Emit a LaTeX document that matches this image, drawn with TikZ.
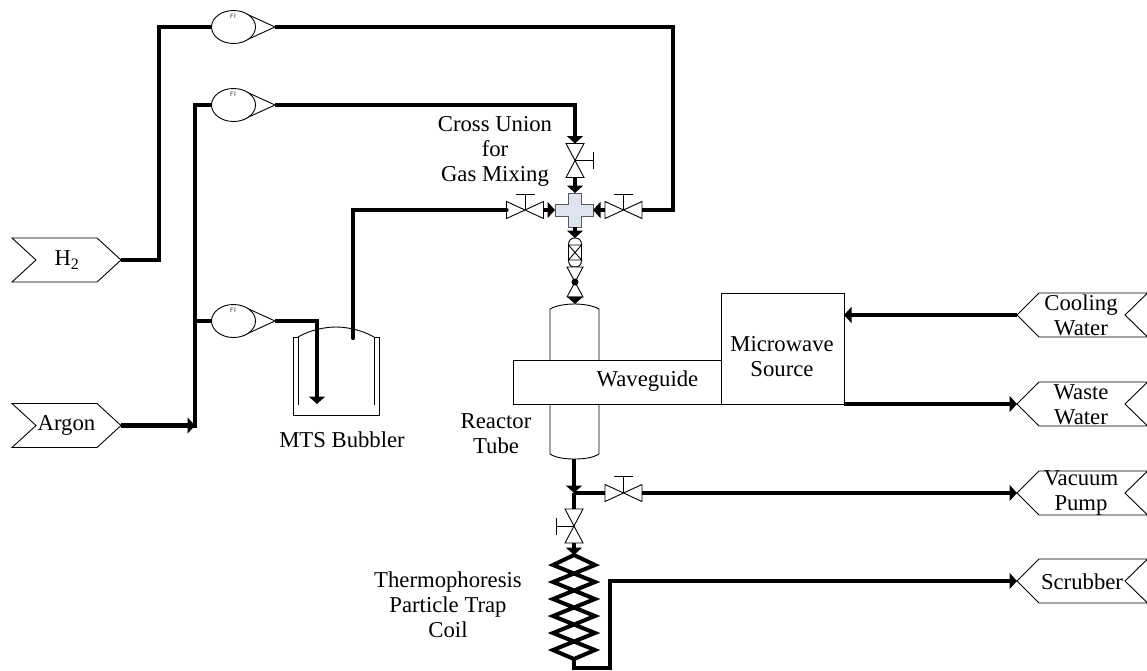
\documentclass[tikz,border=0pt]{standalone}
\usepackage{fontspec}
\setmainfont{Liberation Serif}
\usetikzlibrary{arrows.meta}
\definecolor{crossblue}{RGB}{221,228,240}
\newcommand{\pfdvalveH}[4]{% name, x, y, stem: horizontal run valve, stem up
  \coordinate (#1W) at (#2-18.5,#3); \coordinate (#1E) at (#2+18.5,#3);
  \draw[thin line,fill=white] (#2-18.5,#3-8.5) -- (#2+18.5,#3+8.5) -- (#2+18.5,#3-8.5) -- (#2-18.5,#3+8.5) -- cycle;
  \draw[thin line] (#2,#3) -- (#2,#3-#4) (#2-9.5,#3-#4) -- (#2+9.5,#3-#4);}
\newcommand{\pfdvalveV}[4]{% name, x, y, handle dx
  \coordinate (#1N) at (#2,#3-17); \coordinate (#1S) at (#2,#3+17);
  \draw[thin line,fill=white] (#2-9,#3-17) -- (#2+9,#3+17) -- (#2-9,#3+17) -- (#2+9,#3-17) -- cycle;
  \draw[thin line] (#2,#3) -- (#2+#4,#3) (#2+#4,#3-8.5) -- (#2+#4,#3+8.5);}
\newcommand{\pfdflow}[3]{% name, x, y : flow indicator
  \coordinate (#1W) at (#2-22,#3); \coordinate (#1E) at (#2+41.5,#3);
  \draw[thin line,fill=white] (#2+13,#3-13) -- (#2+41.5,#3) -- (#2+13,#3+13);
  \draw[thin line,fill=white] (#2,#3) ellipse [x radius=22,y radius=16.5];
  \node[flabel] (#1L) at (#2-0.5,#3-10.5) {FI};}
\newcommand{\pfdtagL}[4]{% name, y, height half, text
  \coordinate (#1) at (121,#2);
  \draw[thin line,fill=white] (12,#2-22) -- (97,#2-22) -- (121,#2) -- (97,#2+22) -- (12,#2+22) -- (36,#2) -- cycle;
  \node[lab] (#1T) at (#3,#2) {#4};}
\newcommand{\pfdtagR}[2]{% name, y
  \coordinate (#1) at (1017,#2);
  \draw[thin line,fill=white] (1147.5,#2-22) -- (1039,#2-22) -- (1017,#2) -- (1039,#2+22) -- (1147.5,#2+22) -- (1125,#2) -- cycle;}
\tikzset{
  thin line/.style={line width=0.9pt,draw=black},
  pipe/.style={line width=4.4pt,line join=miter,draw=black},
  flow/.style={pipe,-{Triangle[length=7.5pt,width=16pt]}},
  lab/.style={font=\fontsize{22.7}{25}\selectfont,inner sep=0pt,align=center,text=black},
  flabel/.style={font=\sffamily\bfseries\fontsize{6.5}{6.5}\selectfont,inner sep=0pt,text=black!55},
  crossfill/.style={line width=1pt,draw=black!65,fill=crossblue},
}
\begin{document}
\begin{tikzpicture}[x=1pt,y=-1pt]
\useasboundingbox (0,0) rectangle (1147,670);

% --- junction coordinates
\coordinate (h2up) at (159,260);
\coordinate (h2top) at (159,27);
\coordinate (hrc) at (673,27);
\coordinate (hrd) at (673,210);
\coordinate (arTee) at (195,425.5);
\coordinate (arTop) at (195,105);
\coordinate (arBot) at (195,428);
\coordinate (arMid) at (195,321);
\coordinate (f2c) at (575,105);
\coordinate (f3c) at (317,321);
\coordinate (bubIn) at (317,404);
\coordinate (mtsOut) at (353,338);
\coordinate (mtsUp) at (353,210);
\coordinate (cN) at (575,193);
\coordinate (cS) at (575,227);
\coordinate (cW) at (555,210);
\coordinate (cE) at (593,210);
\coordinate (filtN) at (575,238);
\coordinate (filtS) at (575,267);
\coordinate (v5N) at (575,267);
\coordinate (v5S) at (575,297);
\coordinate (tubeTop) at (575,304);
\coordinate (tubeBot) at (574,459);
\coordinate (vtee) at (574,493);
\coordinate (coilTop) at (574,555);
\coordinate (coilBot) at (574,659);
\coordinate (cb1) at (574,668);
\coordinate (cb2) at (610,668);
\coordinate (cb3) at (610,581);
\coordinate (mwC) at (844,315);
\coordinate (mwW) at (844,404);

% --- reactor tube, waveguide, microwave source
\draw[thin line,fill=white] (550,309) .. controls (556,305.5) and (566,304) .. (574.5,304) .. controls (583,304) and (593,305.5) .. (599,309) -- (599,454) .. controls (593,458) and (583,459) .. (574.5,459) .. controls (566,459) and (556,458) .. (550,454) -- cycle;
\node[thin line,draw,fill=white,minimum width=208pt,minimum height=43.5pt,inner sep=0pt,anchor=north west] (wg) at (513,360) {};
\node[thin line,draw,fill=white,minimum width=123pt,minimum height=110.5pt,inner sep=0pt,anchor=north west] (mw) at (721,293) {};
\node[lab] (wgT) at (647.5,381) {Waveguide};
\node[lab] (mwT) at (782,356.5) {Microwave\\Source};

% --- bubbler
\draw[thin line] (298,337) -- (293,337) -- (293,415) -- (379,415) -- (379,337) -- (374,337);
\draw[thin line] (298,337) -- (298,405) (374,337) -- (374,405);
\draw[thin line] (298,337) .. controls (310,330) and (325,327) .. (336,327) .. controls (347,327) and (362,330) .. (374,337);

% --- feed tags
\pfdtagL{h2}{260}{67}{H\textsubscript{2}}
\pfdtagL{ar}{425.5}{66.5}{Argon}

% --- right tags
\pfdtagR{cool}{315}
\pfdtagR{waste}{404}
\pfdtagR{vac}{493}
\pfdtagR{scr}{581}
\node[lab] (coolT) at (1081,315) {Cooling\\Water};
\node[lab] (wasteT) at (1081,404.5) {Waste\\Water};
\node[lab] (vacT) at (1081,493) {Vacuum\\Pump};
\node[lab] (scrT) at (1082,582) {Scrubber};

% --- flow indicators
\pfdflow{fa}{233.5}{27}
\pfdflow{fb}{233.5}{105}
\pfdflow{fc}{233.5}{321}

% --- valves
\pfdvalveV{vt}{575}{160.5}{18}
\pfdvalveH{vl}{525}{210}{16}
\pfdvalveH{vr}{623.5}{210}{16}
\pfdvalveH{vv}{623.5}{493}{16.5}
\pfdvalveV{vb}{574}{526}{-18}

% --- cross union
\draw[crossfill] (568.5,193) -- (581.5,193) -- (581.5,204) -- (593,204) -- (593,216) -- (581.5,216) -- (581.5,227) -- (568.5,227) -- (568.5,216) -- (555,216) -- (555,204) -- (568.5,204) -- cycle;

% --- filter
\draw[thin line,fill=white] (568.5,245) .. controls (568.5,240) and (571,238) .. (575,238) .. controls (579,238) and (581.5,240) .. (581.5,245) -- (581.5,260) .. controls (581.5,265) and (579,267) .. (575,267) .. controls (571,267) and (568.5,265) .. (568.5,260) -- cycle;
\draw[thin line] (568.5,245) -- (581.5,245) -- (568.5,260) -- (581.5,260) -- (568.5,245);

% --- lower valve with dot
\draw[thin line,fill=white] (567,267) -- (583,297) -- (567,297) -- (583,267) -- cycle;
\fill (575,282) circle (3.5);

% --- coil
\draw[pipe,line width=4pt,line join=miter] (coilTop) -- (595,565) -- (553,582) -- (595,599) -- (553,616) -- (595,633) -- (553,650) -- (coilBot) -- (595,650) -- (553,633) -- (595,616) -- (553,599) -- (595,582) -- (553,565) -- cycle;

% --- pipes
\draw[pipe] (h2) -- (h2up) -- (h2top) -- (faW);
\draw[pipe] (faE) -- (hrc) -- (hrd) -- (vrE);
\draw[flow] (ar) -- (arTee);
\draw[pipe] (arBot) -- (arTop) -- (fbW);
\draw[pipe] (arMid) -- (fcW);
\draw[flow] (fbE) -- (f2c) -- (vtN);
\draw[flow] (vtS) -- (cN);
\draw[flow] (fcE) -- (f3c) -- (bubIn);
\draw[pipe,line cap=round] (mtsOut) -- (mtsUp) -- (vlW);
\draw[flow] (vlE) -- (cW);
\draw[flow] (vrW) -- (cE);
\draw[flow] (cS) -- (filtN);
\draw[flow] (v5S) -- (tubeTop);
\draw[flow] (cool) -- (mwC);
\draw[flow] (mwW) -- (waste);
\draw[flow] (tubeBot) -- (vtee);
\draw[pipe] (vtee) -- (vbN);
\draw[pipe] (vtee) -- (vvW);
\draw[flow] (vvE) -- (vac);
\draw[flow] (vbS) -- (coilTop);
\draw[flow] (coilBot) -- (cb1) -- (cb2) -- (cb3) -- (scr);

% --- labels
\node[lab] (crossT) at (495,151) {Cross Union\\for\\Gas Mixing};
\node[lab] (mtsT) at (342,440) {MTS Bubbler};
\node[lab] (tubeT) at (496,434) {Reactor\\Tube};
\node[lab] (coilT) at (448,605) {Thermophoresis\\Particle Trap\\Coil};
\end{tikzpicture}
\end{document}
